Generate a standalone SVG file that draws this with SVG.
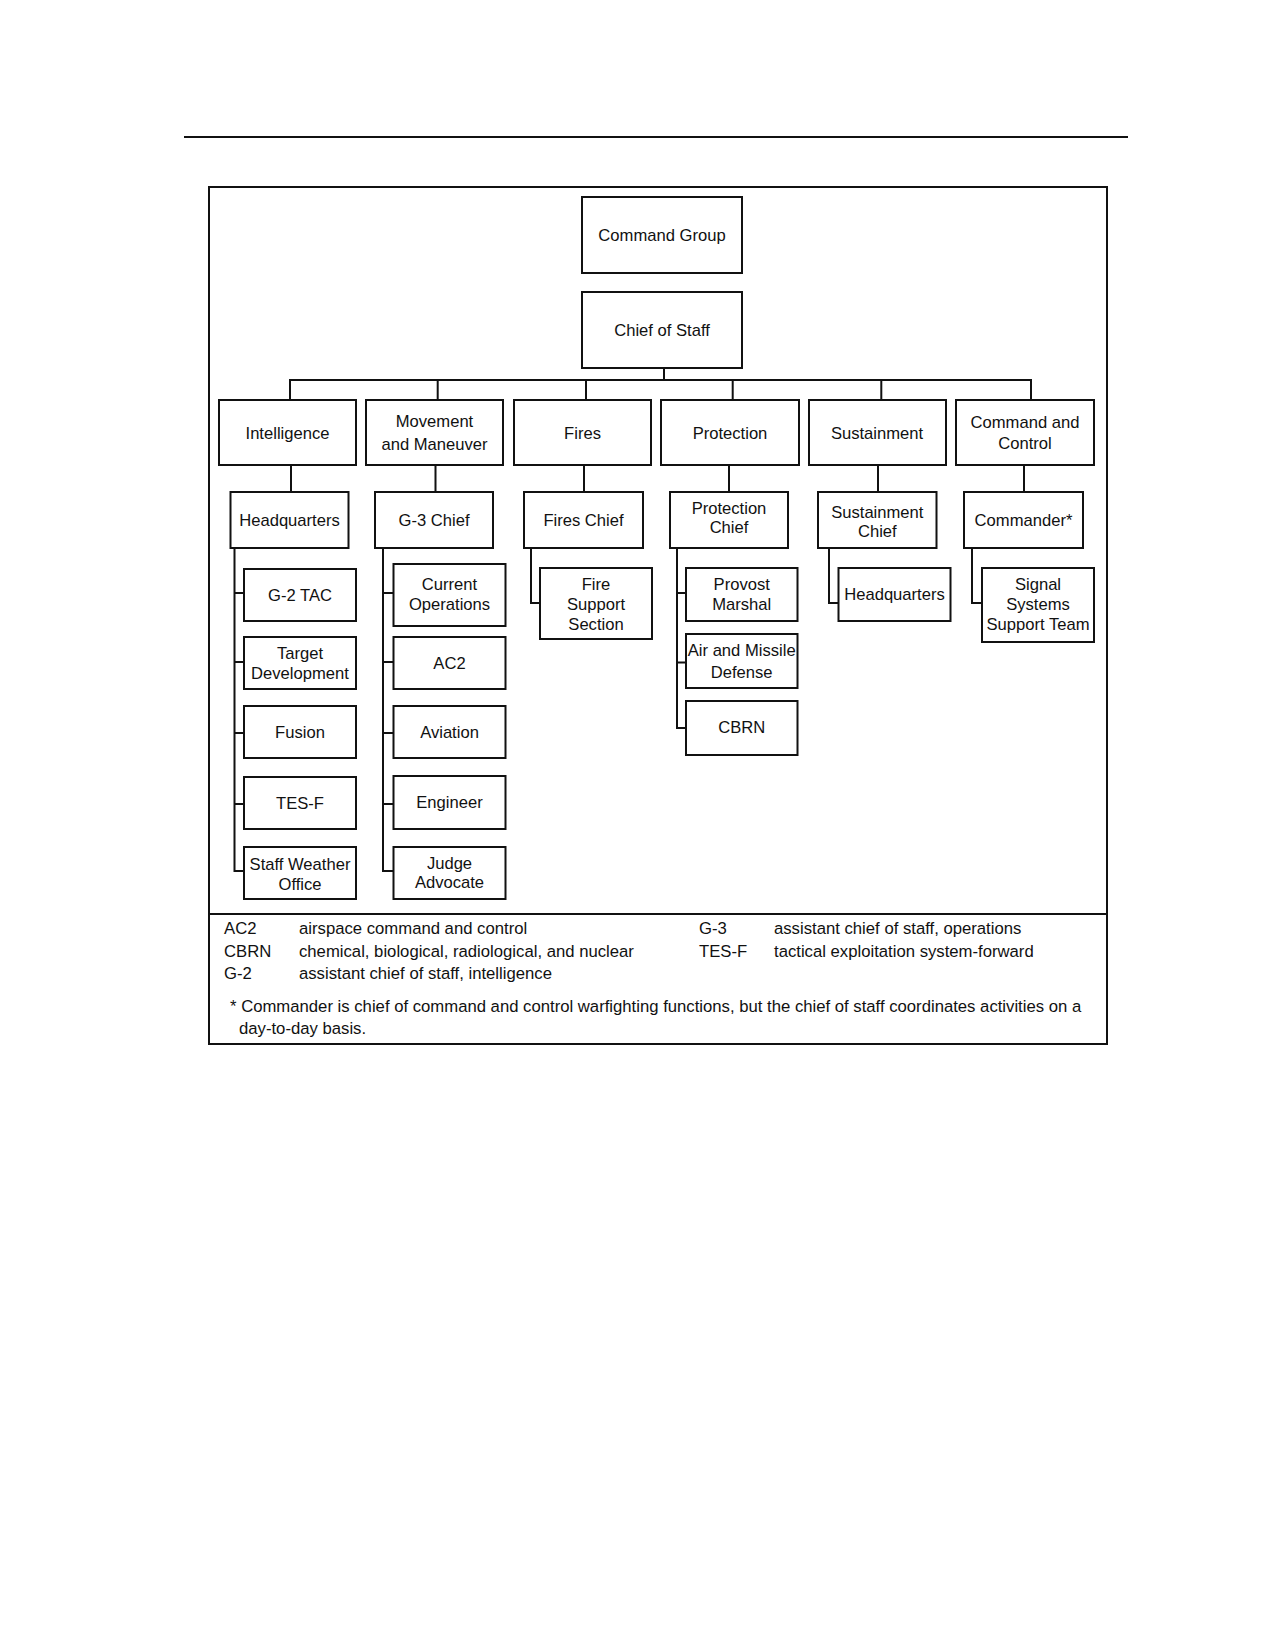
<svg xmlns="http://www.w3.org/2000/svg" width="1275" height="1650" viewBox="0 0 1275 1650">
<style>
.b{fill:#fff;stroke:#111;stroke-width:2}
.t{font-family:"Liberation Sans",Arial,sans-serif;font-size:16.6px;fill:#111;text-anchor:middle}
.f{font-family:"Liberation Sans",Arial,sans-serif;font-size:16.7px;fill:#111}
.c{fill:none;stroke:#111;stroke-width:2}
</style>
<rect width="1275" height="1650" fill="#fff"/>
<line x1="184" y1="137" x2="1128" y2="137" stroke="#111" stroke-width="2"/>
<rect x="209" y="187" width="898" height="857" fill="none" stroke="#111" stroke-width="2"/>
<line x1="209" y1="914" x2="1107" y2="914" stroke="#111" stroke-width="2"/>

<g id="connectors" class="c">
<path d="M664,368V380M290,400V380H1031V400M437.7,380V400M586,380V400M732.7,380V400M881.3,380V400"/>
<path d="M291,465V492M435.5,465V492M584,465V492M729,465V492M878,465V492M1024,465V492"/>
<path d="M234.5,548V871H244M234.5,593H244M234.5,662H244M234.5,733H244M234.5,804H244"/>
<path d="M383,548V871H393.5M383,593H393.5M383,662H393.5M383,733H393.5M383,804H393.5"/>
<path d="M531,548V603H540"/>
<path d="M677,548V728H686M677,593H686M677,662.5H686"/>
<path d="M829,548V603H838.5"/>
<path d="M972,548V603H982"/>
</g>

<g id="command-group"><rect class="b" x="582" y="197" width="160" height="76"/><text class="t" x="662" y="240.5">Command Group</text></g>
<g id="chief-of-staff"><rect class="b" x="582" y="292" width="160" height="76"/><text class="t" x="662" y="335.5">Chief of Staff</text></g>

<g id="intelligence"><rect class="b" x="219" y="400" width="137" height="65"/><text class="t" x="287.5" y="438.5">Intelligence</text></g>
<g id="movement-maneuver"><rect class="b" x="366" y="400" width="137" height="65"/><text class="t" x="434.5" y="427">Movement</text><text class="t" x="434.5" y="449.5">and Maneuver</text></g>
<g id="fires"><rect class="b" x="514" y="400" width="137" height="65"/><text class="t" x="582.5" y="438.5">Fires</text></g>
<g id="protection"><rect class="b" x="661" y="400" width="138" height="65"/><text class="t" x="730" y="438.5">Protection</text></g>
<g id="sustainment"><rect class="b" x="809" y="400" width="137" height="65"/><text class="t" x="877" y="438.5">Sustainment</text></g>
<g id="command-control"><rect class="b" x="956" y="400" width="138" height="65"/><text class="t" x="1025" y="428">Command and</text><text class="t" x="1025" y="448.5">Control</text></g>

<g id="intel-hq"><rect class="b" x="230.5" y="492" width="118" height="56"/><text class="t" x="289.5" y="525.5">Headquarters</text></g>
<g id="g3-chief"><rect class="b" x="375" y="492" width="118" height="56"/><text class="t" x="434" y="525.5">G-3 Chief</text></g>
<g id="fires-chief"><rect class="b" x="524" y="492" width="119" height="56"/><text class="t" x="583.5" y="525.5">Fires Chief</text></g>
<g id="protection-chief"><rect class="b" x="670" y="492" width="118" height="56"/><text class="t" x="729" y="513.5">Protection</text><text class="t" x="729" y="533">Chief</text></g>
<g id="sustainment-chief"><rect class="b" x="818" y="492" width="118.5" height="56"/><text class="t" x="877.3" y="517.5">Sustainment</text><text class="t" x="877.3" y="537">Chief</text></g>
<g id="commander"><rect class="b" x="964" y="492" width="119" height="56"/><text class="t" x="1023.5" y="525.5">Commander*</text></g>

<g id="g2-tac"><rect class="b" x="244" y="569" width="112" height="52"/><text class="t" x="300" y="600.5">G-2 TAC</text></g>
<g id="target-development"><rect class="b" x="244" y="637" width="112" height="52"/><text class="t" x="300" y="658.5">Target</text><text class="t" x="300" y="678.5">Development</text></g>
<g id="fusion"><rect class="b" x="244" y="706" width="112" height="52"/><text class="t" x="300" y="737.5">Fusion</text></g>
<g id="tes-f"><rect class="b" x="244" y="777" width="112" height="52"/><text class="t" x="300" y="808.5">TES-F</text></g>
<g id="staff-weather-office"><rect class="b" x="244" y="847" width="112" height="52"/><text class="t" x="300" y="870">Staff Weather</text><text class="t" x="300" y="889.5">Office</text></g>

<g id="current-operations"><rect class="b" x="393.5" y="564" width="112" height="62"/><text class="t" x="449.5" y="589.5">Current</text><text class="t" x="449.5" y="609.5">Operations</text></g>
<g id="ac2"><rect class="b" x="393.5" y="637" width="112" height="52"/><text class="t" x="449.5" y="668.5">AC2</text></g>
<g id="aviation"><rect class="b" x="393.5" y="706" width="112" height="52"/><text class="t" x="449.5" y="737.5">Aviation</text></g>
<g id="engineer"><rect class="b" x="393.5" y="776" width="112" height="53"/><text class="t" x="449.5" y="808">Engineer</text></g>
<g id="judge-advocate"><rect class="b" x="393.5" y="847" width="112" height="52"/><text class="t" x="449.5" y="868.5">Judge</text><text class="t" x="449.5" y="888">Advocate</text></g>

<g id="fire-support-section"><rect class="b" x="540" y="568" width="112" height="71"/><text class="t" x="596" y="589.5">Fire</text><text class="t" x="596" y="610">Support</text><text class="t" x="596" y="630">Section</text></g>

<g id="provost-marshal"><rect class="b" x="686" y="568" width="111.5" height="53"/><text class="t" x="741.7" y="589.5">Provost</text><text class="t" x="741.7" y="609.5">Marshal</text></g>
<g id="air-missile-defense"><rect class="b" x="686" y="634" width="111.5" height="54"/><text class="t" x="741.7" y="656">Air and Missile</text><text class="t" x="741.7" y="678">Defense</text></g>
<g id="cbrn"><rect class="b" x="686" y="701" width="111.5" height="54"/><text class="t" x="741.7" y="733">CBRN</text></g>

<g id="sustainment-hq"><rect class="b" x="838.5" y="568" width="112" height="53"/><text class="t" x="894.5" y="600">Headquarters</text></g>
<g id="signal-systems"><rect class="b" x="982" y="568" width="112" height="74"/><text class="t" x="1038" y="589.5">Signal</text><text class="t" x="1038" y="609.5">Systems</text><text class="t" x="1038" y="630">Support Team</text></g>

<g id="legend">
<text class="f" x="224" y="934">AC2</text><text class="f" x="299" y="934">airspace command and control</text>
<text class="f" x="224" y="957">CBRN</text><text class="f" x="299" y="957">chemical, biological, radiological, and nuclear</text>
<text class="f" x="224" y="979">G-2</text><text class="f" x="299" y="979">assistant chief of staff, intelligence</text>
<text class="f" x="699" y="934">G-3</text><text class="f" x="774" y="934">assistant chief of staff, operations</text>
<text class="f" x="699" y="957">TES-F</text><text class="f" x="774" y="957">tactical exploitation system-forward</text>
<text class="f" x="230" y="1011.5">* Commander is chief of command and control warfighting functions, but the chief of staff coordinates activities on a</text>
<text class="f" x="239" y="1034">day-to-day basis.</text>
</g>
</svg>
